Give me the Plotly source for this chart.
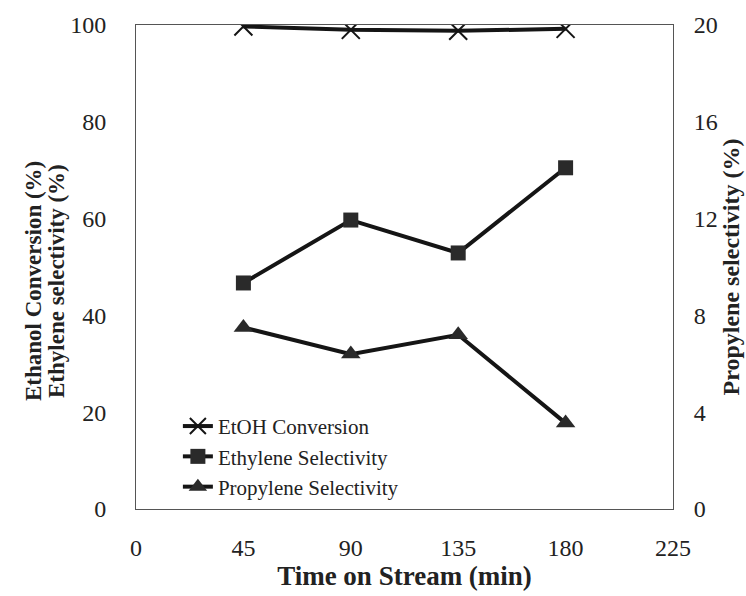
import plotly.graph_objects as go

# Time on stream (min)
time_min = [45, 90, 135, 180]
# Left axis series (%)
etoh_conversion = [99.7, 99.0, 98.8, 99.2]
ethylene_selectivity = [46.7, 59.7, 52.9, 70.5]
# Right axis series (%)
propylene_selectivity = [7.5, 6.4, 7.2, 3.55]

x_ticks = [0, 45, 90, 135, 180, 225]
left_ticks = [0, 20, 40, 60, 80, 100]
right_ticks = [0, 4, 8, 12, 16, 20]

left_title_lines = ["Ethanol Conversion (%)", "Ethylene selectivity (%)"]

FONT = "Liberation Serif"
INK = "#151515"
TEXT = "#222222"

fig = go.Figure()
fig.add_trace(go.Scatter(
    x=time_min, y=etoh_conversion, name="EtOH Conversion",
    mode="lines+markers", legendgroup="a",
    line=dict(color=INK, width=4),
    marker=dict(symbol="x-thin", size=18, line=dict(color=INK, width=2)),
))
fig.add_trace(go.Scatter(
    x=time_min, y=ethylene_selectivity, name="Ethylene Selectivity",
    mode="lines+markers", legendgroup="b",
    line=dict(color=INK, width=4),
    marker=dict(symbol="square", size=15, color="#2a2a2a"),
))
fig.add_trace(go.Scatter(
    x=time_min, y=propylene_selectivity, name="Propylene Selectivity",
    mode="lines+markers", yaxis="y2", legendgroup="c",
    line=dict(color=INK, width=4),
    marker=dict(symbol="triangle-up", size=17, color="#2a2a2a"),
))

axis_line = dict(showline=True, linecolor="#555555", linewidth=1,
                 showgrid=False, zeroline=False, ticks="", automargin=False,
                 tickfont=dict(family=FONT, size=24, color=TEXT))

# two-line left axis title, one annotation per line
for xpos, line in zip([33, 56], left_title_lines):
    fig.add_annotation(
        text=f"<b>{line}</b>", textangle=-90, showarrow=False,
        xref="paper", yref="paper",
        x=(xpos - 136) / 537, y=(509 - 281) / 484,
        xanchor="center", yanchor="middle",
        font=dict(family=FONT, size=23, color=TEXT),
    )

fig.update_layout(
    width=746, height=596,
    margin=dict(l=136, r=73, t=25, b=87),
    paper_bgcolor="white", plot_bgcolor="white",
    font=dict(family=FONT, color=TEXT, size=20),
    showlegend=True,
    legend=dict(
        x=0.078, y=0.213, xanchor="left", yanchor="top",
        bgcolor="rgba(0,0,0,0)", font=dict(family=FONT, size=21, color=TEXT),
        itemwidth=30, tracegroupgap=0, traceorder="grouped",
        itemsizing="trace",
    ),
    xaxis=dict(
        range=[0, 225], tickvals=x_ticks, ticklabelstandoff=17,
        title=dict(text="<b>Time on Stream (min)</b>", standoff=0,
                   font=dict(family=FONT, size=27, color=TEXT)),
        mirror=True, **axis_line,
    ),
    yaxis=dict(
        range=[0, 100], tickvals=left_ticks, ticklabelstandoff=24,
        **axis_line,
    ),
    yaxis2=dict(
        range=[0, 20], tickvals=right_ticks, overlaying="y", side="right",
        ticklabelstandoff=15,
        title=dict(text="<b>Propylene selectivity (%)</b>", standoff=0,
                   font=dict(family=FONT, size=24, color=TEXT)),
        **axis_line,
    ),
)

fig.write_html("out.html")
